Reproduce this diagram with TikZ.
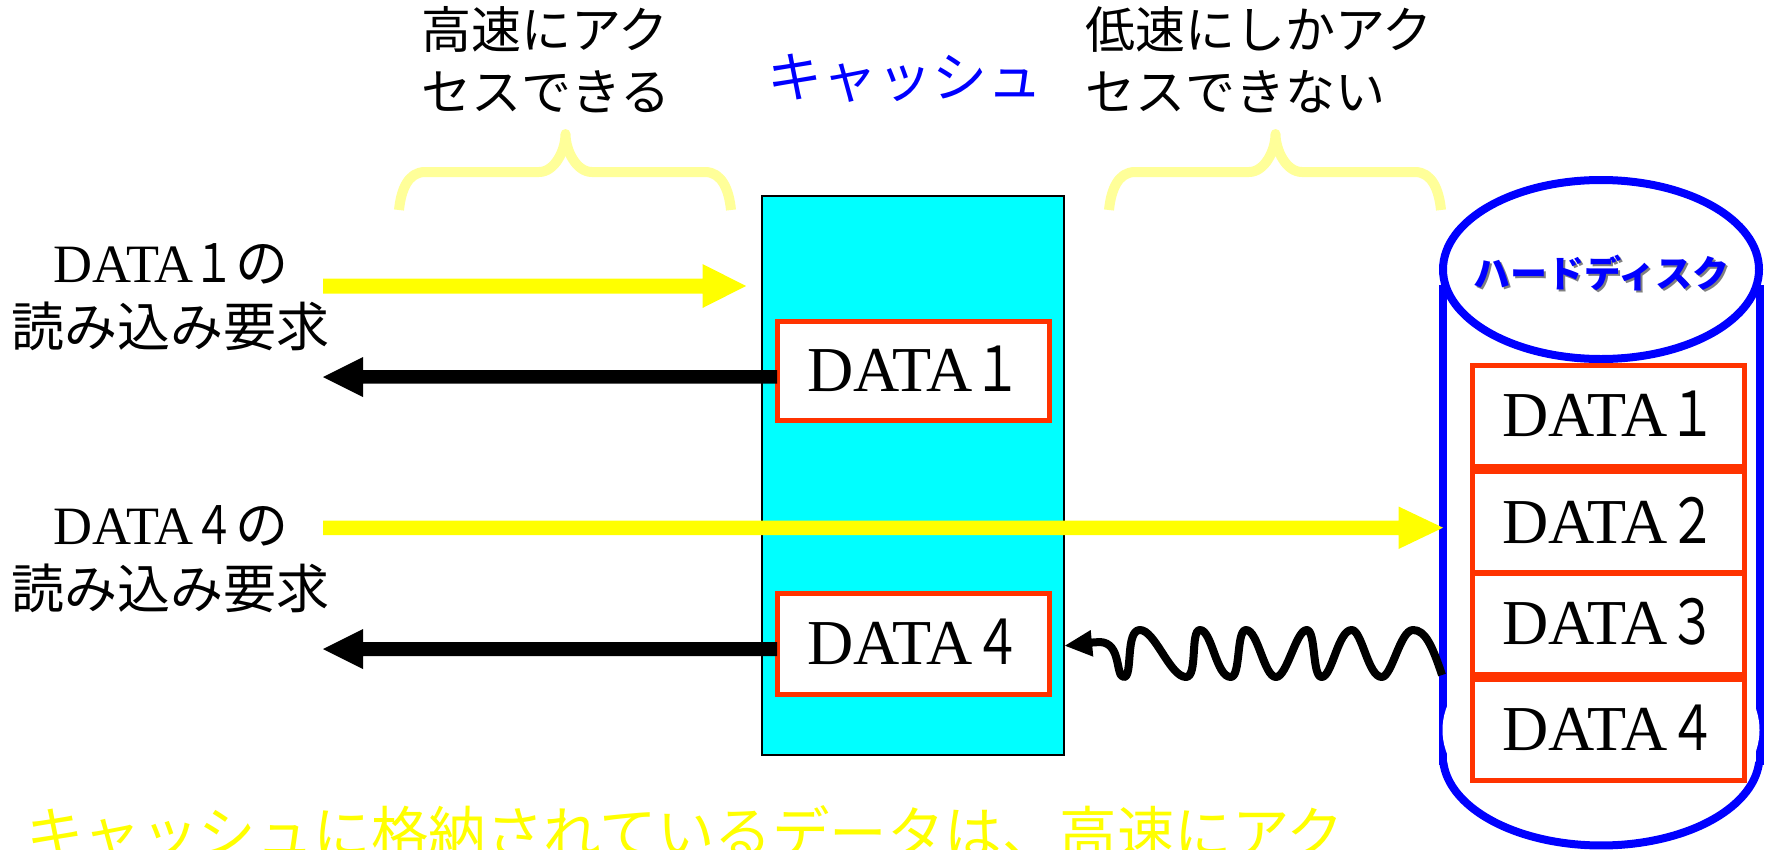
\documentclass[tikz,border=0pt]{standalone}
\usepackage{fontspec}
\usetikzlibrary{shapes.geometric}
\setmainfont{Liberation Serif}
\newfontfamily\jp{Noto Sans CJK JP}
\newfontfamily\jpd[FakeStretch=0.78]{Noto Sans CJK JP}
\definecolor{paleyellow}{HTML}{FFFF99}
\definecolor{datared}{HTML}{FF3300}
\definecolor{pureyellow}{RGB}{255,255,0}
\definecolor{purecyan}{RGB}{0,255,255}
\definecolor{pureblue}{RGB}{0,0,255}
\tikzset{
  x=1pt,y=-1pt,
  databox/.style={draw=datared,line width=5pt,fill=white,minimum width=272pt,minimum height=101pt,inner sep=0pt},
  datatext/.style={font=\fontsize{64}{64}\selectfont,inner sep=0pt,anchor=center,xshift=1pt,yshift=2pt},
  label/.style={font=\jp\fontsize{50}{62}\selectfont,align=left,inner sep=0pt,anchor=north west},
  reqlabel/.style={font=\fontsize{53}{64}\selectfont,align=center,inner sep=0pt,anchor=center},
  bracepath/.style={draw=paleyellow,line width=10pt,line join=round},
  yarrow/.style={fill=pureyellow,draw=none},
  karrow/.style={fill=black,draw=none}
}
\newcommand{\dt}[1]{DATA{\jpd\fontsize{62}{64}\selectfont #1}}
\newcommand{\reqline}[1]{{\fontsize{54}{64}\selectfont DATA}{\jpd #1}{\jp の}}
\begin{document}
\begin{tikzpicture}
\useasboundingbox (0,0) rectangle (1770,849);
\clip (0,0) rectangle (1770,849);
% cache
\node[draw=black,line width=2pt,fill=purecyan,minimum width=302pt,minimum height=559pt,inner sep=0pt,anchor=north west] (cache) at (760.5,195) {};
\node[databox,minimum height=99.5pt] (c1) at (913.5,371) {};
\node[databox,minimum height=101pt] (c4) at (913.5,644) {};
\node[datatext] (c1t) at (c1) {\dt{１}};
\node[datatext] (c4t) at (c4) {\dt{４}};
% disk
\draw[pureblue,line width=8pt] (1443,285) -- (1443,765);
\draw[pureblue,line width=8pt] (1759.5,285) -- (1759.5,765);
\fill[white] (1601,730) ellipse[x radius=158.5,y radius=100];
\draw[pureblue,line width=8pt] plot[domain=184:356,samples=80] ({1601.2+158.3*cos(\x)},{756-89.5*sin(\x)});
\node[draw=pureblue,line width=8pt,ellipse,fill=white,minimum width=316pt,minimum height=179pt,inner sep=0pt] (top) at (1601,269.5) {};
\node[font=\jp\bfseries\fontsize{37}{37}\selectfont,text=gray,inner sep=0pt] at (1603.5,275) {ハードディスク};
\node[font=\jp\bfseries\fontsize{37}{37}\selectfont,text=pureblue,inner sep=0pt] (hd) at (1601.5,273) {ハードディスク};
\node[databox] (d1) at (1608.5,416) {};
\node[databox] (d2) at (1608.5,522) {};
\node[databox] (d3) at (1608.5,624) {};
\node[databox] (d4) at (1608.5,730) {};
\node[datatext] at (d1) {\dt{１}};
\node[datatext] at (d2) {\dt{２}};
\node[datatext] at (d3) {\dt{３}};
\node[datatext] at (d4) {\dt{４}};
% labels
\node[label] (fast) at (421,6.5) {高速にアク\\セスできる};
\node[label] (slow) at (1085,6.5) {低速にしかアク\\セスできない};
\node[font=\jp\fontsize{55}{55}\selectfont,text=pureblue,inner sep=0pt] (title) at (905,78) {キャッシュ};
\node[reqlabel] (r1) at (171,297) {\reqline{１}\\{\jp 読み込み要求}};
\node[reqlabel] (r4) at (171,559) {\reqline{４}\\{\jp 読み込み要求}};
% braces
\foreach \dx/\nm in {0/a,710/b}{
 \draw[bracepath,xshift=\dx pt] (399,210) .. controls (401,190) and (408,172) .. (425,172) -- (539,172)
   .. controls (555,172) and (565.5,150) .. (565.5,134) .. controls (565.5,150) and (576,172) .. (592,172) -- (705,172)
   .. controls (722,172) and (729,190) .. (731,210);
}
% arrows
\fill[yarrow] (323,278.5) -- (702.5,278.5) -- (702.5,264) -- (746,286) -- (702.5,308) -- (702.5,293.5) -- (323,293.5) -- cycle;
\fill[karrow] (777,370) -- (363,370) -- (363,357) -- (323,377) -- (363,397) -- (363,383.5) -- (777,383.5) -- cycle;
\fill[yarrow] (323,520.5) -- (1398.5,520.5) -- (1398.5,506.5) -- (1443,527.7) -- (1398.5,549) -- (1398.5,535) -- (323,535) -- cycle;
\fill[karrow] (777,642) -- (363,642) -- (363,629) -- (323,649) -- (363,669) -- (363,656) -- (777,656) -- cycle;
% wavy
\coordinate (wstart) at (1442,675);
\coordinate (wend) at (1085,643);
\draw[black,line width=8pt,line join=round] (wstart) .. controls (1432,645) and (1425,630) .. (1413,630)
 .. controls (1400,630) and (1392,677) .. (1381.7,677)
 .. controls (1368,677) and (1362,630) .. (1351.7,630)
 .. controls (1338,630) and (1332,677) .. (1321.7,677)
 .. controls (1312,677) and (1316,630) .. (1306.7,630)
 .. controls (1296,630) and (1287,677) .. (1276,677)
 .. controls (1264,677) and (1258,630) .. (1246,630)
 .. controls (1236,630) and (1241,677) .. (1230.7,677)
 .. controls (1216,677) and (1212,630) .. (1200,630)
 .. controls (1190,630) and (1198,677) .. (1186,677)
 .. controls (1170,677) and (1155,630) .. (1140,630)
 .. controls (1125,630) and (1133,677) .. (1124,677)
 .. controls (1115,677) and (1122,643) .. (1100,642) -- (wend);
\fill[black] (1065,645.7) -- (1090.7,630) -- (1093.3,656.7) -- cycle;
% bottom text
\node[font=\jp\fontsize{57.5}{58}\selectfont,text=pureyellow,inner sep=0pt,anchor=north west] (foot) at (26,805) {キャッシュに格納されているデータは、高速にアク};
\end{tikzpicture}
\end{document}
